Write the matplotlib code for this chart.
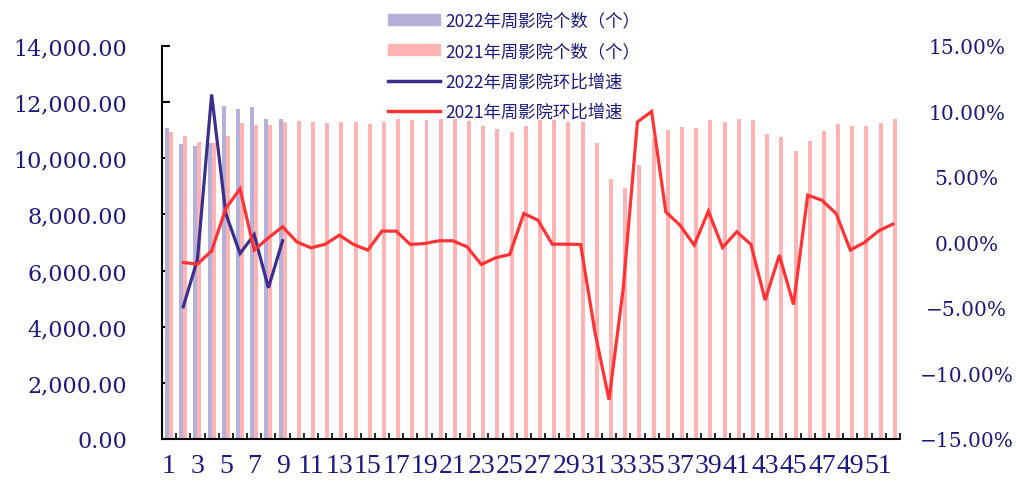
import matplotlib
matplotlib.use("Agg")
import matplotlib.pyplot as plt
from matplotlib.patches import Patch
from matplotlib.lines import Line2D
from matplotlib.ticker import FixedLocator, FuncFormatter

# --- data ---
weeks = list(range(1, 53))
week_labels = [str(w) if w % 2 == 1 else "" for w in weeks]

cinemas_2022 = [11070, 10510, 10420, 10540, 11845, 11750, 11810, 11400, 11415]
cinemas_2021 = [10950, 10785, 10595, 10535, 10800, 11250, 11180, 11180, 11310,
                11320, 11275, 11250, 11310, 11285, 11215, 11310, 11405, 11380,
                11370, 11390, 11405, 11345, 11165, 11035, 10930, 11165, 11370,
                11370, 11310, 11290, 10530, 9260, 8930, 9760, 10715, 10990,
                11105, 11095, 11355, 11310, 11405, 11380, 10870, 10760, 10260,
                10630, 10965, 11225, 11145, 11145, 11240, 11405]

# week-on-week growth (%), starts at week 2
growth_2022 = [-4.91, -1.3, 11.3, 2.2, -0.84, 0.6, -3.46, 0.13]
growth_2021 = [-1.53, -1.65, -0.64, 2.6, 4.1, -0.58, 0.36, 1.2, 0.05, -0.41,
               -0.13, 0.56, -0.15, -0.58, 0.87, 0.87, -0.15, -0.08, 0.13, 0.13,
               -0.33, -1.68, -1.17, -0.92, 2.21, 1.7, -0.13, -0.13, -0.15, -6.8,
               -12.0, -3.5, 9.2, 10.0, 2.34, 1.32, -0.2, 2.39, -0.38, 0.82,
               -0.15, -4.4, -0.97, -4.73, 3.61, 3.23, 2.21, -0.58, 0.0, 0.89, 1.4]

names = ["2022年周影院个数（个）", "2021年周影院个数（个）",
         "2022年周影院环比增速", "2021年周影院环比增速"]

NAVY = "#1a1a80"
C_BAR22 = "#b5b0d9"
C_BAR21 = "#ffb3b3"
C_LINE22 = "#3b2e8c"
C_LINE21 = "#ff3333"
TICK_FONT = "DejaVu Serif"

fig = plt.figure(figsize=(10.16, 4.85), dpi=100)
ax = fig.add_axes([0.1594, 0.0928, 0.7264, 0.8103])
ax2 = ax.twinx()

w = 0.28
x22 = weeks[:len(cinemas_2022)]
ax.bar([x - w / 2 for x in x22], cinemas_2022, width=w, color=C_BAR22, zorder=2)
ax.bar([x + w / 2 for x in weeks], cinemas_2021, width=w, color=C_BAR21, zorder=2)

ax2.plot(weeks[1:1 + len(growth_2022)], growth_2022, color=C_LINE22, lw=2.3,
         solid_joinstyle="miter", zorder=3)
ax2.plot(weeks[1:], growth_2021, color=C_LINE21, lw=2.3,
         solid_joinstyle="miter", zorder=3)

# left axis
ax.set_xlim(0.5, 52.5)
ax.set_ylim(0, 14000)
ax.set_yticks(range(0, 14001, 2000))
ax.yaxis.set_major_formatter(FuncFormatter(lambda v, p: f"{v:,.2f}"))
ax.tick_params(axis="y", direction="in", length=6, width=1.5, pad=25,
               labelsize=16, labelcolor=NAVY)
for lab in ax.get_yticklabels():
    lab.set_fontfamily(TICK_FONT)

# x axis: labels at odd weeks, tick marks at category boundaries
ax.set_xticks(weeks)
ax.set_xticklabels(week_labels, fontfamily="Liberation Serif", fontsize=20,
                   color=NAVY)
ax.tick_params(axis="x", which="major", length=0, pad=10)
ax.xaxis.set_minor_locator(FixedLocator([x + 0.5 for x in weeks]))
ax.tick_params(axis="x", which="minor", direction="in", length=4, width=1.2)

for s in ["top", "right"]:
    ax.spines[s].set_visible(False)
ax.spines["left"].set_linewidth(1.5)
ax.spines["bottom"].set_linewidth(1.5)

# right axis
ax2.set_ylim(-15, 15)
ax2.set_yticks(range(-15, 16, 5))
ax2.yaxis.set_major_formatter(
    FuncFormatter(lambda v, p: f"{v:.2f}%".replace("-", "\u2212")))
ax2.tick_params(axis="y", length=0, pad=48, labelsize=14.5, labelcolor=NAVY)
for lab in ax2.get_yticklabels():
    lab.set_fontfamily(TICK_FONT)
    lab.set_horizontalalignment("center")
for s in ax2.spines.values():
    s.set_visible(False)

handles = [Patch(color=C_BAR22), Patch(color=C_BAR21),
           Line2D([], [], color=C_LINE22, lw=2.5),
           Line2D([], [], color=C_LINE21, lw=2.5)]
leg = ax2.legend(handles, names, loc="upper left", bbox_to_anchor=(0.295, 1.11),
                 frameon=False, handlelength=3.0, handleheight=0.6,
                 handletextpad=0.3, labelspacing=0.72, borderpad=0,
                 prop={"family": ["Noto Sans CJK SC", "DejaVu Sans"], "size": 12.5})
for t in leg.get_texts():
    t.set_color(NAVY)

fig.savefig("out.png", dpi=100)
